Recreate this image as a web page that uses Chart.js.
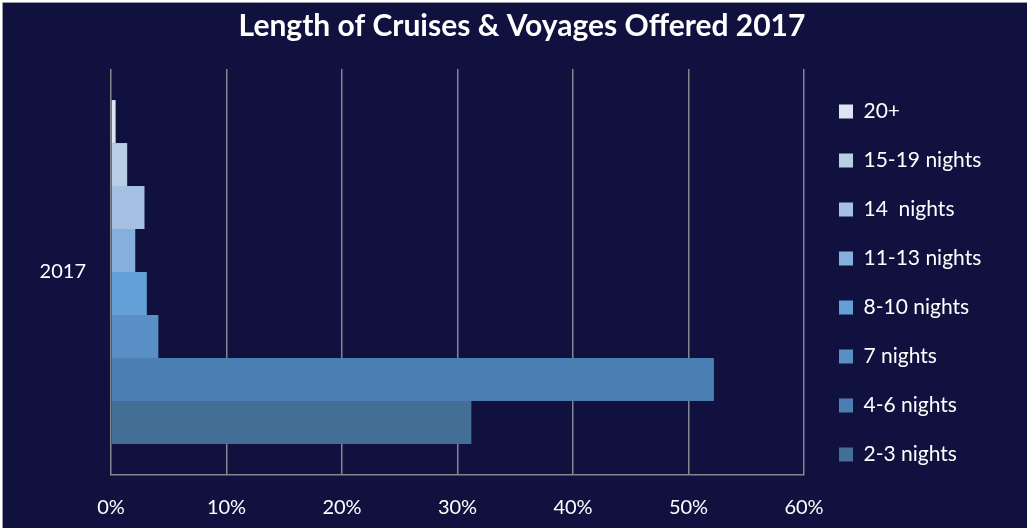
<!DOCTYPE html>
<html>
<head>
<meta charset="utf-8">
<script src="https://cdn.jsdelivr.net/npm/chart.js@4"></script>
<style>
  html, body { margin: 0; padding: 0; background: #ffffff; }
  #wrap { width: 1027px; height: 528px; position: relative; }
</style>
</head>
<body>
<div id="wrap"><canvas id="c" width="1027" height="528"></canvas></div>
<script>
// ---- data ----
const categories = ['2017'];
const seriesLabels = ['20+', '15-19 nights', '14  nights', '11-13 nights', '8-10 nights', '7 nights', '4-6 nights', '2-3 nights'];
const seriesValues = [0.4, 1.4, 2.9, 2.1, 3.1, 4.1, 52.2, 31.2];
const seriesColors = ['#dce6f2', '#b8cde6', '#a5c0e3', '#85b0de', '#63a0d8', '#5a8fc6', '#4b7fb3', '#436f97'];
const xTickLabels = ['0%', '10%', '20%', '30%', '40%', '50%', '60%'];
const titleText = 'Length of Cruises & Voyages Offered 2017';

const FONT = 'Lato, "Open Sans", "DejaVu Sans", sans-serif';
const GRID = '#85858f';
const RIGHT_BLOCK = 223;   // space to the right of the plot area
const INNER_GAP = 7;

const bgPlugin = {
  id: 'bg',
  beforeDraw(chart) {
    const ctx = chart.ctx;
    ctx.save();
    ctx.fillStyle = '#ffffff';
    ctx.fillRect(0, 0, chart.width, chart.height);
    ctx.fillStyle = '#111140';
    ctx.fillRect(3, 3, chart.width - 3, chart.height - 3);
    ctx.strokeStyle = '#9a9aa8';
    ctx.lineWidth = 1;
    ctx.beginPath();
    ctx.moveTo(2.5, chart.height);
    ctx.lineTo(2.5, 2.5);
    ctx.lineTo(chart.width, 2.5);
    ctx.stroke();
    ctx.restore();
  }
};

const datasets = seriesLabels.map((lab, i) => ({
  label: lab,
  data: [seriesValues[i]],
  backgroundColor: seriesColors[i],
  borderWidth: 0,
  categoryPercentage: 0.847,
  barPercentage: 1.0
}));

const spacer = (fn, weight) => ({
  type: 'category',
  axis: 'y',
  position: 'right',
  weight: weight,
  labels: categories,
  ticks: { display: false },
  grid: { display: false, drawTicks: false },
  border: { display: false },
  afterFit: (s) => { s.width = fn(s); }
});

new Chart(document.getElementById('c'), {
  type: 'bar',
  data: { labels: categories, datasets },
  plugins: [bgPlugin],
  options: {
    indexAxis: 'y',
    responsive: false,
    animation: false,
    layout: { padding: { left: 17, right: 0, top: 0, bottom: 0 } },
    plugins: {
      title: {
        display: true,
        text: titleText,
        color: '#ffffff',
        font: { family: FONT, size: 30, weight: 'bold' },
        padding: { top: 8, bottom: 25 }
      },
      legend: {
        display: true,
        position: 'right',
        align: 'start',
        maxWidth: 300,
        title: { display: true, text: ' ', font: { size: 10 }, padding: { top: 30.5, bottom: 30.5 } },
        labels: {
          color: '#ffffff',
          font: { family: FONT, size: 21 },
          boxWidth: 14,
          boxHeight: 14,
          padding: 28
        }
      },
      tooltip: { enabled: false }
    },
    scales: {
      x: {
        type: 'linear',
        min: 0,
        max: 60,
        ticks: {
          stepSize: 10,
          color: '#ffffff',
          font: { family: FONT, size: 20 },
          padding: 21,
          callback: (v, i) => xTickLabels[i]
        },
        grid: { color: GRID, lineWidth: 1.5, drawTicks: false },
        border: { display: true, color: GRID, width: 1.5 },
        afterFit: (s) => { s.height = 53; }
      },
      y: {
        type: 'category',
        ticks: {
          color: '#ffffff',
          font: { family: FONT, size: 20 },
          padding: 25
        },
        grid: { display: false, drawTicks: false },
        border: { display: false },
        afterFit: (s) => { s.width = 94; }
      },
      gapInner: spacer(() => INNER_GAP, 0),
      gapOuter: spacer((s) => {
        const lw = (s.chart.legend && s.chart.legend.width) ? s.chart.legend.width : 168;
        return Math.max(0, RIGHT_BLOCK - INNER_GAP - lw);
      }, 3000)
    }
  }
});
</script>
</body>
</html>
